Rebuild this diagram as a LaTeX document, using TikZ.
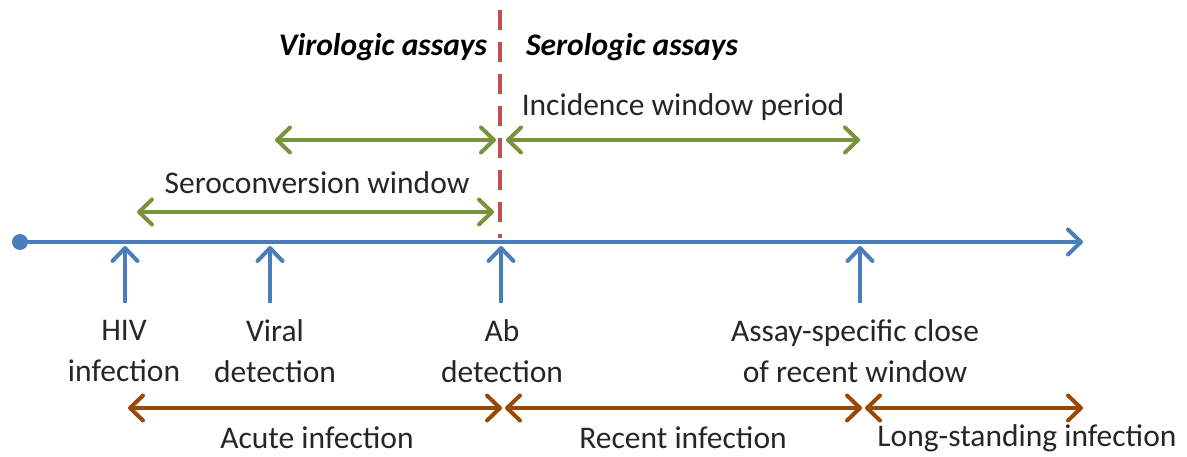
\documentclass[tikz,border=0pt]{standalone}
\usepackage{fontspec}
\setmainfont{Carlito}
\usetikzlibrary{arrows.meta}
\definecolor{tlblue}{HTML}{4A7EBB}
\definecolor{tlgreen}{HTML}{77933C}
\definecolor{tlbrown}{HTML}{984807}
\definecolor{tlred}{HTML}{C0504D}
\begin{document}
\begin{tikzpicture}[x=1pt,y=-1pt,
  bluearr/.style={draw=tlblue,line width=4pt,-{Straight Barb[length=13pt,width=25pt,round]}},
  greenarr/.style={draw=tlgreen,line width=4pt,{Straight Barb[length=13pt,width=25pt,round]}-{Straight Barb[length=13pt,width=25pt,round]}},
  brownarr/.style={draw=tlbrown,line width=4pt,{Straight Barb[length=13pt,width=25pt,round]}-{Straight Barb[length=13pt,width=25pt,round]}},
  lbl/.style={font=\fontsize{31.5}{41}\selectfont,text=black!85,align=center,inner sep=0pt},
  hdr/.style={font=\fontsize{31.5}{36}\selectfont\bfseries\itshape,inner sep=0pt}]
\useasboundingbox (0,0) rectangle (1187,457);
% timeline
\coordinate (t0) at (20,242);
\coordinate (t1) at (1083,242);
\fill[tlblue] (t0) circle (8);
\draw[bluearr] (t0) -- (t1);
% red dashed divider
\coordinate (r0) at (500,10);
\coordinate (r1) at (500,238);
\draw[tlred,line width=4.5pt,dash pattern=on 20pt off 12pt] (r0) -- (r1);
% up arrows
\foreach \n/\x in {a/125,b/270,c/501,d/860}{
  \coordinate (\n0) at (\x,303);
  \coordinate (\n1) at (\x,246);
  \draw[bluearr] (\n0) -- (\n1);
}
% headers
\node[hdr] (vir) at (383,47) {Virologic assays};
\node[hdr] (ser) at (632,47) {Serologic assays};
% green arrows
\coordinate (g1a) at (275,140); \coordinate (g1b) at (496,140);
\coordinate (g2a) at (506,140); \coordinate (g2b) at (860,140);
\coordinate (g3a) at (137,212); \coordinate (g3b) at (494,212);
\draw[greenarr] (g1a) -- (g1b);
\draw[greenarr] (g2a) -- (g2b);
\draw[greenarr] (g3a) -- (g3b);
\node[lbl] (inc) at (683,107) {Incidence window period};
\node[lbl] (sero) at (317,183) {Seroconversion window};
% event labels
\node[lbl] (hiv) at (124,351) {HIV\\infection};
\node[lbl] (vd) at (275,351) {Viral\\detection};
\node[lbl] (ab) at (502,351) {Ab\\detection};
\node[lbl] (as) at (855,351) {Assay-specific close\\of recent window};
% brown arrows
\coordinate (b1a) at (128,408); \coordinate (b1b) at (502,408);
\coordinate (b2a) at (505,408); \coordinate (b2b) at (862,408);
\coordinate (b3a) at (865,408); \coordinate (b3b) at (1083,408);
\draw[brownarr] (b1a) -- (b1b);
\draw[brownarr] (b2a) -- (b2b);
\draw[brownarr] (b3a) -- (b3b);
\node[lbl] (acute) at (317,438) {Acute infection};
\node[lbl] (recent) at (683,438) {Recent infection};
\node[lbl] (long) at (1027,438) {Long-standing infection};
\end{tikzpicture}
\end{document}
